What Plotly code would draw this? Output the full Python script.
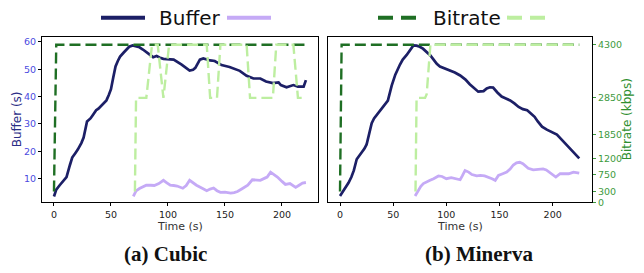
import plotly.graph_objects as go

W, H = 644, 273

# ---------------- data ----------------
# (a) Cubic
cubic_buf_t = [0, 2, 5, 8, 11, 14, 16, 19, 21, 24, 26, 29, 32, 34, 37, 39, 42, 44, 46, 48, 50, 52, 54, 56,
               58, 61, 63, 66, 69, 72, 75, 78, 81, 84, 87, 90, 93, 96, 99, 105, 112, 116, 119, 122, 124,
               128, 131, 137, 141, 147, 154, 163, 169, 175, 181, 186, 192, 197, 199, 204, 210, 214, 219, 221]
cubic_buf = [3.5, 6, 7.6, 9, 10.6, 15, 17.7, 19.5, 20.7, 23, 25, 30.9, 32, 33.2, 35, 35.6, 37, 37.8, 38.6,
             40.5, 42.7, 47, 51, 53, 54.6, 56, 57, 58.2, 58.7, 58.4, 58.0, 57.2, 56.4, 55.3, 54.4, 54.8,
             54.2, 53.8, 53.7, 53.5, 51.7, 50.5, 49.5, 49.8, 50.5, 53.5, 53.9, 53.2, 53.0, 51.5, 50.8,
             49.4, 47.6, 46.6, 46.6, 45.5, 44.9, 45.2, 44.2, 43.4, 44.2, 43.6, 43.6, 46.0]
cubic_buf2_t = [69.6, 72, 75, 78, 81, 85, 88, 92, 96, 99, 102, 105, 108, 113, 116, 119, 122, 125, 130, 134,
                137, 140, 143, 146, 150, 155, 158, 161, 165, 170, 174, 178, 181, 185, 187, 190, 193, 196,
                200, 203, 207, 210, 212, 215, 218, 221]
cubic_buf2 = [3.5, 5.5, 6.4, 7.0, 7.6, 7.6, 7.5, 8.2, 9.4, 8.5, 7.6, 7.5, 7.3, 6.5, 7.5, 9.4, 8.5, 7.6,
              6.5, 5.6, 6.2, 6.6, 5.6, 5.0, 5.1, 4.7, 4.9, 5.3, 6.3, 7.6, 9.6, 9.4, 9.4, 10.2, 10.6, 12.4,
              11.5, 10.6, 9.0, 7.9, 8.2, 7.3, 6.8, 7.6, 8.4, 8.6]
cubic_br_t = [0, 2, 221]
cubic_br = [300, 4300, 4300]
cubic_br2_t = [71, 72, 81, 86, 91, 96, 101, 134, 137, 143, 146, 169, 172, 192, 195, 210, 214, 221]
cubic_br2 = [300, 2850, 2850, 4300, 4300, 2850, 4300, 4300, 2850, 2850, 4300, 4300, 2850, 2850, 4300,
             4300, 2850, 2850]

# (b) Minerva
minerva_buf_t = [0, 3, 6, 8, 10.7, 13, 15.7, 18, 20.4, 23, 25, 27, 29.8, 32, 34.5, 37, 39, 42, 45, 48.6, 52,
                 56.4, 59, 62.7, 66, 69, 72, 75, 78, 81.5, 85, 88, 91, 94, 99, 103.5, 108, 113, 118, 122,
                 126, 130, 135, 138, 141, 144, 148, 152, 156, 160, 164, 168, 172, 176, 179, 183, 186, 190,
                 194.5, 199, 204, 210, 215, 220, 225]
minerva_buf = [3.7, 5.5, 7, 8.5, 10.6, 13, 17.1, 18.3, 19.5, 21, 22.5, 26, 30.3, 32, 33.2, 34.5, 35.6, 37,
               38.5, 44, 48, 51.7, 53.5, 55.2, 57.3, 58.7, 58.6, 58.2, 57.5, 56.4, 55, 53.5, 52, 51, 50.3,
               49.6, 48.8, 47.7, 46.2, 44.5, 43, 41.8, 42, 43, 43.4, 43.3, 41.5, 40, 39.3, 38.6, 37.5, 36.2,
               35.4, 35, 34, 32.6, 30.9, 29, 27.9, 27, 26.1, 23.6, 21.5, 19.5, 17.4]
minerva_buf2_t = [70.6, 73, 76, 78.4, 81, 84.7, 88, 92.6, 96, 100, 104.6, 108, 113, 115, 117.6, 121, 124,
                  128.6, 132, 136, 140, 143, 146, 149, 153, 156.8, 160, 163, 166, 169, 172, 177, 181.7, 186,
                  191, 194, 197, 200, 203, 207, 211, 215, 219.6, 225]
minerva_buf2 = [3.7, 5.5, 7.2, 8.2, 8.8, 9.4, 10, 11, 10.8, 10, 10.4, 10, 9.6, 11, 13, 12.4, 11.5, 11,
                11.2, 11, 10.5, 10, 9.4, 11.2, 11.8, 12.4, 13.5, 15, 15.8, 16, 15.5, 13.8, 13.2, 13.4, 13.6,
                13.2, 12.4, 11.5, 10.6, 11.8, 11.9, 11.8, 12.4, 12]
minerva_br_t = [0, 1.5, 225]
minerva_br = [300, 4300, 4300]
minerva_br2_t = [71, 72, 80, 81.5, 85, 225]
minerva_br2 = [300, 2850, 2850, 2950, 4300, 4300]

x_ticks = [0, 50, 100, 150, 200]
buf_ticks = [10, 20, 30, 40, 50, 60]
br_ticks = [0, 300, 750, 1200, 1850, 2850, 4300]

# ---------------- style ----------------
NAVY = "#1c1f66"
PURPLE = "#c5aaf6"
DGREEN = "#1f6f24"
LGREEN = "#bdeea0"
BLUE_TICK = "#4a4ae0"
BLUE_TITLE = "#2a2d86"
GREEN_TICK = "#3e9a3e"
GREEN_TITLE = "#2f8f2f"


def px(x):
    return x / W


def py(y):
    return 1 - y / H


TOP, BOT = 37, 206
L1, R1 = 42, 318
L2, R2 = 328, 592

fig = go.Figure()

# panel a
fig.add_trace(go.Scatter(x=cubic_buf_t, y=cubic_buf, mode="lines", line=dict(color=NAVY, width=2.7),
                         xaxis="x", yaxis="y", showlegend=False))
fig.add_trace(go.Scatter(x=cubic_buf2_t, y=cubic_buf2, mode="lines", line=dict(color=PURPLE, width=2.8),
                         xaxis="x", yaxis="y", showlegend=False))
fig.add_trace(go.Scatter(x=cubic_br_t, y=cubic_br, mode="lines",
                         line=dict(color=DGREEN, width=2.4, dash="11px,5px"),
                         xaxis="x", yaxis="y2", showlegend=False))
fig.add_trace(go.Scatter(x=cubic_br2_t, y=cubic_br2, mode="lines",
                         line=dict(color=LGREEN, width=2.4, dash="11px,5px"),
                         xaxis="x", yaxis="y2", showlegend=False))
# panel b
fig.add_trace(go.Scatter(x=minerva_buf_t, y=minerva_buf, mode="lines", line=dict(color=NAVY, width=2.7),
                         xaxis="x2", yaxis="y3", showlegend=False))
fig.add_trace(go.Scatter(x=minerva_buf2_t, y=minerva_buf2, mode="lines", line=dict(color=PURPLE, width=2.8),
                         xaxis="x2", yaxis="y3", showlegend=False))
fig.add_trace(go.Scatter(x=minerva_br_t, y=minerva_br, mode="lines",
                         line=dict(color=DGREEN, width=2.4, dash="11px,5px"),
                         xaxis="x2", yaxis="y4", showlegend=False))
fig.add_trace(go.Scatter(x=minerva_br2_t, y=minerva_br2, mode="lines",
                         line=dict(color=LGREEN, width=2.4, dash="11px,5px"),
                         xaxis="x2", yaxis="y4", showlegend=False))

tickfont_dark = dict(family="DejaVu Sans", size=9.5, color="#222222")

xcommon = dict(tickvals=x_ticks, ticks="outside", ticklen=3, tickwidth=1, tickcolor="black",
               showline=True, linecolor="black", linewidth=1, mirror=True, showgrid=False,
               zeroline=False, tickfont=tickfont_dark)

fig.update_layout(
    width=W, height=H, margin=dict(l=0, r=0, t=0, b=0),
    paper_bgcolor="white", plot_bgcolor="white",
    xaxis=dict(domain=[px(L1), px(R1)], range=[-10.5, 231.6], anchor="y", **xcommon),
    xaxis2=dict(domain=[px(L2), px(R2)], range=[-11.3, 237], anchor="y3", **xcommon),
    yaxis=dict(domain=[py(BOT), py(TOP)], range=[1.3, 61.7], anchor="x", tickvals=buf_ticks,
               ticks="outside", ticklen=3, tickcolor="black", showline=True, linecolor="black",
               linewidth=1, mirror=True, showgrid=False, zeroline=False,
               tickfont=dict(family="DejaVu Sans", size=9.5, color=BLUE_TICK)),
    yaxis2=dict(range=[0, 4505], overlaying="y", anchor="x", side="right", showticklabels=False,
                ticks="", showline=False, showgrid=False, zeroline=False),
    yaxis3=dict(domain=[py(BOT), py(TOP)], range=[1.3, 61.7], anchor="x2", showticklabels=False,
                ticks="", showline=True, linecolor="black", linewidth=1, mirror=True, showgrid=False,
                zeroline=False),
    yaxis4=dict(range=[0, 4505], overlaying="y3", anchor="x2", side="right", tickvals=br_ticks,
                ticks="outside", ticklen=3, tickcolor=GREEN_TICK, showline=False, showgrid=False,
                zeroline=False, tickfont=dict(family="DejaVu Sans", size=9.5, color=GREEN_TICK)),
)


def label(text, x, y, size, color, family="DejaVu Sans", angle=0, xanchor="center"):
    return dict(text=text, x=px(x), y=py(y), xref="paper", yref="paper", showarrow=False,
                xanchor=xanchor, yanchor="middle", textangle=angle,
                font=dict(family=family, size=size, color=color))


ann = [
    label("Time (s)", 180, 231, 11, "#333333"),
    label("Time (s)", 460, 231, 11, "#333333"),
    label("Buffer (s)", 17, 121, 12, BLUE_TITLE, angle=-90),
    label("Bitrate (kbps)", 627, 121, 12, GREEN_TITLE, angle=-90),
    label("<b>(a) Cubic</b>", 165, 259, 21, "#111111", family="Liberation Serif"),
    label("<b>(b) Minerva</b>", 479, 259, 21, "#111111", family="Liberation Serif"),
    label("Buffer", 157, 17, 20, "#111111", xanchor="left"),
    label("Bitrate", 431, 17, 20, "#111111", xanchor="left"),
]
fig.update_layout(annotations=ann)

shapes = [
    dict(type="line", xref="paper", yref="paper", x0=px(101), x1=px(145), y0=py(17), y1=py(17),
         line=dict(color=NAVY, width=4)),
    dict(type="line", xref="paper", yref="paper", x0=px(227), x1=px(271), y0=py(17), y1=py(17),
         line=dict(color=PURPLE, width=4)),
    dict(type="line", xref="paper", yref="paper", x0=px(378), x1=px(418), y0=py(17), y1=py(17),
         line=dict(color=DGREEN, width=4, dash="15px,8px")),
    dict(type="line", xref="paper", yref="paper", x0=px(507), x1=px(545), y0=py(17), y1=py(17),
         line=dict(color=LGREEN, width=4, dash="15px,8px")),
]
fig.update_layout(shapes=shapes)

fig.write_html("out.html", config={"displayModeBar": False},
               post_script="document.body.style.margin='0px';")
